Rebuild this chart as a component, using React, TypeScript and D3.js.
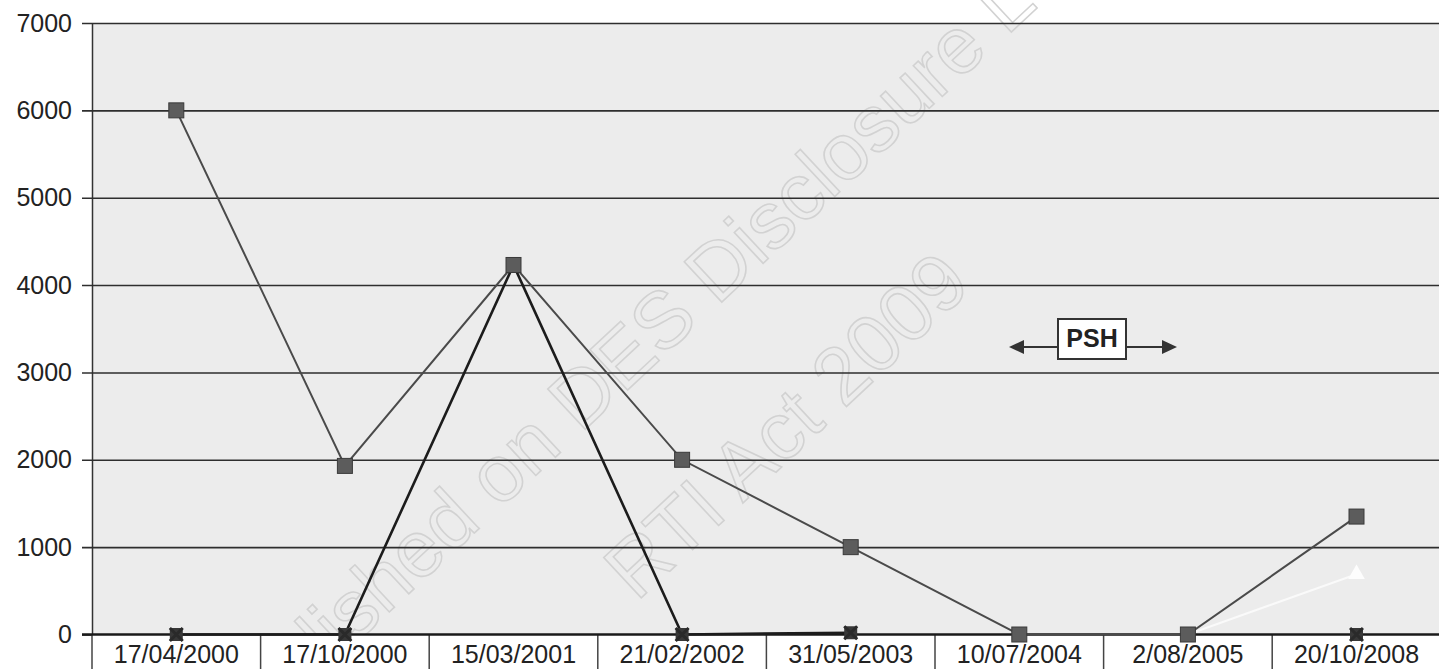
import React, { useEffect, useRef } from 'react';
import * as d3 from 'd3';

const categories = ['17/04/2000', '17/10/2000', '15/03/2001', '21/02/2002', '31/05/2003', '10/07/2004', '2/08/2005', '20/10/2008'];
const seriesA: (number | null)[] = [6000, 1930, 4230, 2000, 1000, 0, 0, 1350];
const seriesB: (number | null)[] = [0, 0, 4230, 0, 20, null, null, 0];
const seriesC: (number | null)[] = [null, null, null, null, null, null, 0, 690];
const yTicks = [0, 1000, 2000, 3000, 4000, 5000, 6000, 7000];

const App = () => {
  const ref = useRef<SVGSVGElement>(null);

  useEffect(() => {
    const width = 1439;
    const height = 669;
    const margin = { top: 23, left: 92, bottom: 34 };

    const svg = d3.select(ref.current)
      .attr('width', width)
      .attr('height', height);
    svg.selectAll('*').remove();

    const x = d3.scaleBand().domain(categories).range([margin.left, margin.left + 8 * 168.6]).padding(0);
    const y = d3.scaleLinear().domain([0, 7000]).range([height - margin.bottom - 0.5, margin.top]);
    const cx = (c: string) => (x(c) as number) + x.bandwidth() / 2;

    // plot background
    svg.append('rect')
      .attr('x', margin.left)
      .attr('y', y(7000))
      .attr('width', width - margin.left)
      .attr('height', y(0) - y(7000))
      .attr('fill', '#ececec');

    // watermark (scan stamp)
    const wm = svg.append('g').attr('font-family', 'Liberation Sans, Arial, sans-serif').attr('font-size', 80)
      .attr('fill', 'none').attr('stroke', '#d2d2d2').attr('stroke-width', 1.6).attr('text-anchor', 'middle');
    wm.append('text').attr('transform', 'translate(665,355) rotate(-43)').text('Published on DES Disclosure Log');
    wm.append('text').attr('transform', 'translate(805,445) rotate(-43)').text('RTI Act 2009');

    // gridlines + y axis
    const yAxis = svg.append('g')
      .attr('transform', `translate(${margin.left},0)`)
      .call(d3.axisLeft(y).tickValues(yTicks).tickFormat(d3.format('d')).tickSize(-(width - margin.left)).tickSizeOuter(0).tickPadding(20));
    yAxis.select('.domain').attr('stroke', '#333').attr('stroke-width', 1.5);
    yAxis.selectAll('.tick line').attr('stroke', '#2e2e2e').attr('stroke-width', 1.6).attr('x1', -10);
    yAxis.selectAll('.tick text')
      .attr('font-family', 'Liberation Sans, Arial, sans-serif')
      .attr('font-size', 25)
      .attr('fill', '#222');

    // category label boxes
    svg.append('rect')
      .attr('x', margin.left)
      .attr('y', y(0))
      .attr('width', width - margin.left)
      .attr('height', height - y(0))
      .attr('fill', '#fff');
    svg.append('g').selectAll('line').data(categories).join('line')
      .attr('x1', d => x(d) as number).attr('x2', d => x(d) as number)
      .attr('y1', y(0)).attr('y2', height)
      .attr('stroke', '#444').attr('stroke-width', 1.5);
    svg.append('g').selectAll('text').data(categories).join('text')
      .attr('x', d => cx(d))
      .attr('y', y(0) + 28)
      .attr('text-anchor', 'middle')
      .attr('font-family', 'Liberation Sans, Arial, sans-serif')
      .attr('font-size', 25)
      .attr('fill', '#222')
      .text(d => d);
    svg.append('line')
      .attr('x1', margin.left - 10).attr('x2', width)
      .attr('y1', y(0)).attr('y2', y(0))
      .attr('stroke', '#1a1a1a').attr('stroke-width', 2.5);

    const line = d3.line<number | null>()
      .defined(d => d !== null)
      .x((d, i) => cx(categories[i]))
      .y(d => y(d as number));

    svg.append('path').datum(seriesC).attr('d', line).attr('fill', 'none').attr('stroke', '#fafafa').attr('stroke-width', 2);
    svg.append('path').datum(seriesA).attr('d', line).attr('fill', 'none').attr('stroke', '#4a4a4a').attr('stroke-width', 2);
    svg.append('path').datum(seriesB).attr('d', line).attr('fill', 'none').attr('stroke', '#1c1c1c').attr('stroke-width', 2.6);

    // series B markers (dark notched squares)
    const bPts = seriesB.map((v, i) => ({ v, c: categories[i] })).filter(d => d.v !== null);
    svg.append('g').selectAll('rect').data(bPts).join('rect')
      .attr('x', d => cx(d.c) - 6.5).attr('y', d => y(d.v as number) - 6.5)
      .attr('width', 13).attr('height', 13)
      .attr('fill', '#383838');
    svg.append('g').selectAll('path').data(bPts).join('path')
      .attr('transform', d => `translate(${cx(d.c)},${y(d.v as number)})`)
      .attr('d', d3.symbol(d3.symbolX, 110)())
      .attr('stroke', '#2a2a2a').attr('stroke-width', 3).attr('fill', 'none');

    // series A markers
    const aPts = seriesA.map((v, i) => ({ v, c: categories[i] })).filter(d => d.v !== null);
    svg.append('g').selectAll('rect').data(aPts).join('rect')
      .attr('x', d => cx(d.c) - 7.5).attr('y', d => y(d.v as number) - 7.5)
      .attr('width', 15).attr('height', 15)
      .attr('fill', '#5c5c5c').attr('stroke', '#3a3a3a').attr('stroke-width', 1);

    // series C marker (white)
    const cPts = seriesC.map((v, i) => ({ v, c: categories[i] })).filter(d => d.v !== null && d.v > 0);
    svg.append('g').selectAll('path').data(cPts).join('path')
      .attr('transform', d => `translate(${cx(d.c)},${y(d.v as number)})`)
      .attr('d', d3.symbol(d3.symbolTriangle, 120)())
      .attr('fill', '#fdfdfd');

    // PSH annotation
    const ay = 347;
    const ann = svg.append('g');
    ann.append('line').attr('x1', 1020).attr('x2', 1058).attr('y1', ay).attr('y2', ay).attr('stroke', '#333').attr('stroke-width', 2);
    ann.append('line').attr('x1', 1126).attr('x2', 1166).attr('y1', ay).attr('y2', ay).attr('stroke', '#333').attr('stroke-width', 2);
    ann.append('path').attr('d', `M1009,${ay} L1024,${ay - 7} L1024,${ay + 7} Z`).attr('fill', '#333');
    ann.append('path').attr('d', `M1177,${ay} L1162,${ay - 7} L1162,${ay + 7} Z`).attr('fill', '#333');
    ann.append('rect').attr('x', 1058).attr('y', 319).attr('width', 68).attr('height', 40)
      .attr('fill', '#fff').attr('stroke', '#333').attr('stroke-width', 2);
    ann.append('text').attr('x', 1092).attr('y', 347).attr('text-anchor', 'middle')
      .attr('font-family', 'Liberation Sans, Arial, sans-serif').attr('font-weight', 'bold')
      .attr('font-size', 25).attr('fill', '#222').text('PSH');
  }, []);

  return (
    <div style={{ position: 'fixed', left: 0, top: 0, background: '#fff' }}>
      <svg ref={ref} style={{ display: 'block' }}></svg>
    </div>
  );
};

export default App;
